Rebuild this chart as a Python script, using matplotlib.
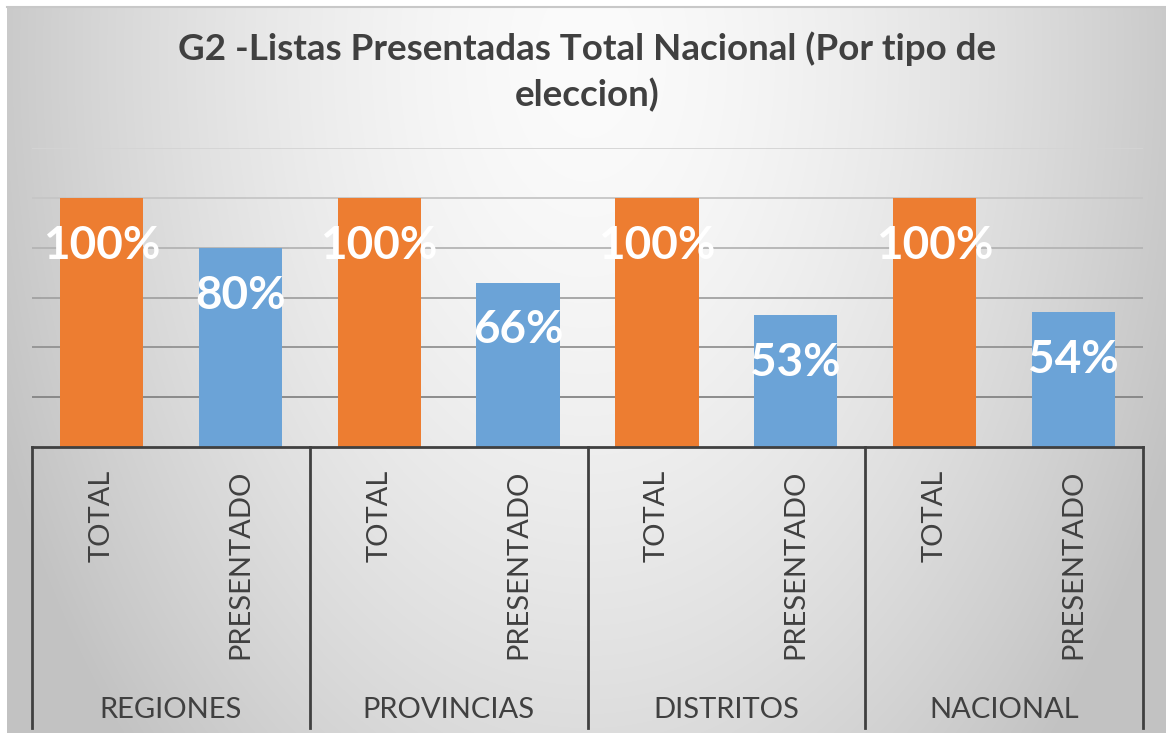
import numpy as np
import matplotlib
matplotlib.use('Agg')
import matplotlib.pyplot as plt

plt.rcParams['font.family'] = ['Lato', 'DejaVu Sans']

groups = ['REGIONES', 'PROVINCIAS', 'DISTRITOS', 'NACIONAL']
series = ['TOTAL', 'PRESENTADO']
total = [1.00, 1.00, 1.00, 1.00]
presentado = [0.80, 0.66, 0.53, 0.54]
title = 'G2 -Listas Presentadas Total Nacional (Por tipo de\neleccion)'

W, H = 1166, 733
fig = plt.figure(figsize=(W / 100, H / 100), dpi=100)
fig.patch.set_facecolor('white')

# background gradient (light at top centre, grey to the sides)
bg = fig.add_axes([7 / W, 0, 1 - 7 / W, (H - 8) / H], zorder=0)
yy, xx = np.mgrid[0:H - 8, 0:W - 7]
r = np.sqrt(((xx - 580) / 640.0) ** 2 + ((yy - 50) / 1000.0) ** 2)
r = np.clip(r, 0, 1)
shade = 251 - 57 * r ** 1.6
bg.imshow(np.dstack([shade] * 3).astype(np.uint8), aspect='auto', interpolation='bilinear')
bg.axis('off')
fig.add_artist(plt.Line2D([7 / W, 1], [(H - 7) / H] * 2, color='#c8c8c8', lw=1.5))

ax = fig.add_axes([32 / W, (H - 447) / H, (1143 - 32) / W, (447 - 148) / H], zorder=1)
ax.patch.set_alpha(0)

n = len(groups)
x = np.arange(n * 2)
vals = []
for t, p in zip(total, presentado):
    vals += [t, p]
colors = ['#ED7D31', '#6BA3D7'] * n

ax.set_xlim(-0.5, n * 2 - 0.5)
ax.set_ylim(0, 1.2)

grid_cols = ['#d4d4d4', '#c6c6c6', '#b4b4b4', '#a2a2a2', '#929292', '#848484']
for yv, gc in zip(np.arange(0.2, 1.21, 0.2)[::-1], grid_cols):
    ax.axhline(yv, color=gc, lw=1.3, zorder=1)

ax.bar(x, vals, width=0.6, color=colors, zorder=2)

for xi, v in zip(x, vals):
    ax.text(xi, v - 0.192, '%d%%' % round(v * 100), ha='center', va='center',
            color='white', fontsize=33, fontweight='bold', zorder=3)

for s in ax.spines.values():
    s.set_visible(False)
ax.set_xticks([])
ax.set_yticks([])

# multi level category axis
axis_col = '#404040'
ax.plot([-0.5, n * 2 - 0.5], [0, 0], color=axis_col, lw=2, clip_on=False, zorder=4,
        transform=ax.get_xaxis_transform())
for g in range(n + 1):
    ax.plot([g * 2 - 0.5] * 2, [0, -0.94], color=axis_col, lw=2, clip_on=False,
            transform=ax.get_xaxis_transform())
for g, name in enumerate(groups):
    for k, s in enumerate(series):
        ax.text(g * 2 + k, -0.075, s, rotation=90, ha='center', va='top', fontsize=21,
                color=axis_col, transform=ax.get_xaxis_transform())
    ax.text(g * 2 + 0.5, -0.88, name, ha='center', va='center', fontsize=21,
            color=axis_col, transform=ax.get_xaxis_transform())

fig.text(587 / W, 1 - 31 / H, title, ha='center', va='top', fontsize=26.5,
         fontweight='bold', color='#404040', linespacing=1.42)

fig.savefig('out.png', dpi=100)
